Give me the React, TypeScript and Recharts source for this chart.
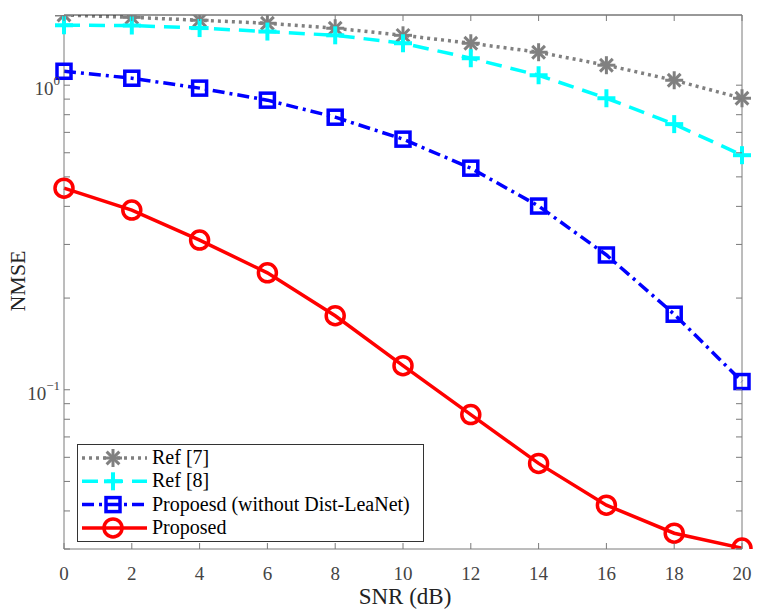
import React from 'react';
import { LineChart, Line, XAxis, YAxis, Legend } from 'recharts';

const snr = [0, 2, 4, 6, 8, 10, 12, 14, 16, 18, 20];
const ref7 = [1.70, 1.67, 1.634, 1.597, 1.538, 1.458, 1.373, 1.283, 1.163, 1.038, 0.906];
const ref8 = [1.573, 1.57, 1.54, 1.50, 1.458, 1.373, 1.226, 1.078, 0.906, 0.745, 0.589];
const proposedNoDist = [1.111, 1.054, 0.978, 0.893, 0.785, 0.665, 0.534, 0.401, 0.277, 0.177, 0.1064];
const proposed = [0.459, 0.389, 0.310, 0.242, 0.175, 0.120, 0.0829, 0.0573, 0.0418, 0.0338, 0.0302];

const xTicks = [0, 2, 4, 6, 8, 10, 12, 14, 16, 18, 20];
const yTicks = [0.03, 0.04, 0.05, 0.06, 0.07, 0.08, 0.09, 0.1, 0.2, 0.3, 0.4, 0.5, 0.6, 0.7, 0.8, 0.9, 1];
const seriesNames = ['Ref [7]', 'Ref [8]', 'Propoesd (without Dist-LeaNet)', 'Proposed'];

const data = snr.map((s, i) => ({
  snr: s,
  ref7: ref7[i],
  ref8: ref8[i],
  noDist: proposedNoDist[i],
  proposed: proposed[i],
}));

const FONT = "'Liberation Serif', 'DejaVu Serif', serif";
const PLOT_L = 64;
const PLOT_R = 742;
const PLOT_T = 15;
const PLOT_B = 549;
const AXIS_COLOR = '#7a7a7a';
const TICK_TEXT = '#444';

const StarMark = ({ cx, cy, r = 9, color = '#808080', sw = 3 }: any) => {
  const lines = [0, 45, 90, 135].map((a) => {
    const rad = (a * Math.PI) / 180;
    const dx = Math.cos(rad) * r;
    const dy = Math.sin(rad) * r;
    return <line key={a} x1={cx - dx} y1={cy - dy} x2={cx + dx} y2={cy + dy} stroke={color} strokeWidth={sw} />;
  });
  return <g>{lines}</g>;
};
const PlusMark = ({ cx, cy, r = 9, color = '#00ffff', sw = 4 }: any) => (
  <g>
    <line x1={cx - r} y1={cy} x2={cx + r} y2={cy} stroke={color} strokeWidth={sw} />
    <line x1={cx} y1={cy - r} x2={cx} y2={cy + r} stroke={color} strokeWidth={sw} />
  </g>
);
const SquareMark = ({ cx, cy, s = 14, color = '#0000ff', sw = 3.5 }: any) => (
  <rect x={cx - s / 2} y={cy - s / 2} width={s} height={s} fill="none" stroke={color} strokeWidth={sw} />
);
const CircleMark = ({ cx, cy, r = 9, color = '#ff0000', sw = 3.5 }: any) => (
  <circle cx={cx} cy={cy} r={r} fill="none" stroke={color} strokeWidth={sw} />
);

const isDecade = (v: number) => Math.abs(Math.log10(v) - Math.round(Math.log10(v))) < 1e-6;

const LeftTick = (props: any) => {
  const { y, payload } = props;
  const v = payload.value;
  const exp = Math.round(Math.log10(v));
  return (
    <g>
      <line x1={PLOT_L} y1={y} x2={PLOT_L + 6} y2={y} stroke={AXIS_COLOR} strokeWidth={1} />
      {isDecade(v) && (
        <text x={60} y={y + 10} textAnchor="end" style={{ fontFamily: FONT }} fontSize={19} fill={TICK_TEXT}>
          10
          <tspan dy={-10} fontSize={13}>{String(exp).replace('-', '\u2212')}</tspan>
        </text>
      )}
    </g>
  );
};
const RightTick = (props: any) => {
  const { y } = props;
  return <line x1={PLOT_R} y1={y} x2={PLOT_R - 6} y2={y} stroke={AXIS_COLOR} strokeWidth={1} />;
};
const BottomTick = (props: any) => {
  const { x, payload } = props;
  return (
    <g>
      <line x1={x} y1={PLOT_B} x2={x} y2={PLOT_B - 6} stroke={AXIS_COLOR} strokeWidth={1} />
      <text x={x} y={580} textAnchor="middle" style={{ fontFamily: FONT }} fontSize={19} fill={TICK_TEXT}>
        {payload.value}
      </text>
    </g>
  );
};
const TopTick = (props: any) => {
  const { x } = props;
  return <line x1={x} y1={PLOT_T} x2={x} y2={PLOT_T + 6} stroke={AXIS_COLOR} strokeWidth={1} />;
};

const legendItems = [
  { name: seriesNames[0], color: '#808080', dash: '3 4', width: 3.5, mark: 'star' },
  { name: seriesNames[1], color: '#00ffff', dash: '16 9', width: 3.5, mark: 'plus' },
  { name: seriesNames[2], color: '#0000ff', dash: '12 5 3 5', width: 3.5, mark: 'square' },
  { name: seriesNames[3], color: '#ff0000', dash: undefined, width: 3.5, mark: 'circle' },
];

const LegendBox = () => (
  <svg width={347} height={99} style={{ display: 'block' }}>
    <rect x={0.5} y={0.5} width={346} height={97} fill="#fff" stroke="#333" strokeWidth={1} />
    {legendItems.map((it, i) => {
      const cy = 14 + i * 23.3;
      const cx = 36;
      return (
        <g key={it.name}>
          <line x1={5} y1={cy} x2={70} y2={cy} stroke={it.color} strokeWidth={it.width} strokeDasharray={it.dash} />
          {it.mark === 'star' && <StarMark cx={cx} cy={cy} />}
          {it.mark === 'plus' && <PlusMark cx={cx} cy={cy} />}
          {it.mark === 'square' && <SquareMark cx={cx} cy={cy} />}
          {it.mark === 'circle' && <CircleMark cx={cx} cy={cy} />}
          <text x={75} y={cy + 6} style={{ fontFamily: FONT }} fontSize={20} fill="#000">
            {it.name}
          </text>
        </g>
      );
    })}
  </svg>
);

export default function App() {
  return (
    <div
      style={{
        position: 'absolute',
        left: 0,
        top: 0,
        width: 762,
        height: 609,
        background: '#fff',
        fontFamily: FONT,
      }}
    >
      <LineChart width={762} height={609} data={data} margin={{ top: 0, right: 0, bottom: 0, left: 0 }}>
        <XAxis
          xAxisId="bottom"
          dataKey="snr"
          type="number"
          domain={[0, 20]}
          ticks={xTicks}
          orientation="bottom"
          height={60}
          stroke={AXIS_COLOR}
          tickLine={false}
          tick={<BottomTick />}
          interval={0}
          label={() => (
            <text x={405} y={604} textAnchor="middle" style={{ fontFamily: FONT }} fontSize={23} fill="#222">
              SNR (dB)
            </text>
          )}
        />
        <XAxis
          xAxisId="top"
          dataKey="snr"
          type="number"
          domain={[0, 20]}
          ticks={xTicks}
          orientation="top"
          height={15}
          stroke="#333"
          tickLine={false}
          tick={<TopTick />}
          interval={0}
        />
        <YAxis
          yAxisId="left"
          scale="log"
          type="number"
          domain={[0.03, 1.7]}
          allowDataOverflow
          ticks={yTicks}
          interval={0}
          width={64}
          stroke={AXIS_COLOR}
          tickLine={false}
          tick={<LeftTick />}
          label={() => (
            <text
              x={25}
              y={281}
              transform="rotate(-90 25 281)"
              textAnchor="middle"
              style={{ fontFamily: FONT }}
              fontSize={22}
              fill="#222"
            >
              NMSE
            </text>
          )}
        />
        <YAxis
          yAxisId="right"
          orientation="right"
          scale="log"
          type="number"
          domain={[0.03, 1.7]}
          allowDataOverflow
          ticks={yTicks}
          interval={0}
          width={20}
          stroke={AXIS_COLOR}
          tickLine={false}
          tick={<RightTick />}
        />
        <Legend
          layout="horizontal"
          verticalAlign="middle"
          align="center"
          content={() => <LegendBox />}
          wrapperStyle={{ position: 'absolute', left: 77, top: 444, width: 347, height: 99 }}
        />
        <Line
          xAxisId="bottom"
          yAxisId="left"
          dataKey="ref7"
          name={seriesNames[0]}
          stroke="#808080"
          strokeWidth={3.5}
          strokeDasharray="3 4"
          isAnimationActive={false}
          dot={(p: any) => <StarMark key={`s${p.index}`} cx={p.cx} cy={p.cy} />}
        />
        <Line
          xAxisId="bottom"
          yAxisId="left"
          dataKey="ref8"
          name={seriesNames[1]}
          stroke="#00ffff"
          strokeWidth={3.5}
          strokeDasharray="16 9"
          isAnimationActive={false}
          dot={(p: any) => <PlusMark key={`p${p.index}`} cx={p.cx} cy={p.cy} />}
        />
        <Line
          xAxisId="bottom"
          yAxisId="left"
          dataKey="noDist"
          name={seriesNames[2]}
          stroke="#0000ff"
          strokeWidth={3.5}
          strokeDasharray="12 5 3 5"
          isAnimationActive={false}
          dot={(p: any) => <SquareMark key={`q${p.index}`} cx={p.cx} cy={p.cy} />}
        />
        <Line
          xAxisId="bottom"
          yAxisId="left"
          dataKey="proposed"
          name={seriesNames[3]}
          stroke="#ff0000"
          strokeWidth={3.5}
          isAnimationActive={false}
          dot={(p: any) => <CircleMark key={`c${p.index}`} cx={p.cx} cy={p.cy} />}
        />
      </LineChart>
    </div>
  );
}
